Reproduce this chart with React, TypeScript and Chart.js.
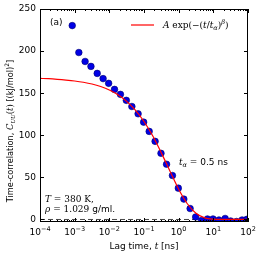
import React, { useEffect, useRef } from "react";
import { Chart, registerables } from "chart.js";

Chart.register(...registerables);

// Measured data: lag time t [ns] and time-correlation C_UU(t)
const lagTimes = [
  0.000851, 0.00132, 0.002, 0.00295, 0.00447, 0.00661, 0.00955, 0.0141, 0.0209, 0.0309,
  0.0447, 0.0676, 0.0977, 0.141, 0.209, 0.309, 0.447, 0.661, 0.977, 1.41,
  2.14, 3.09, 4.57, 6.76, 9.77, 14.5, 21.9, 31.6, 46.8, 67.6, 93.3,
];
const correlation = [
  230.3, 198.3, 187.7, 181.8, 173.5, 167.3, 161.7, 154.5, 148.6, 141.5,
  134.2, 125.5, 115.6, 104.6, 92.8, 78.6, 65.6, 52.2, 37.2, 24.2,
  13.0, 3.0, -1.2, 0.6, 0.6, -0.6, 1.2, -1.8, -2.4, -0.6, 0.2,
];

// Stretched-exponential fit curve
const fitTimes = [
  0.0001, 0.000178, 0.000316, 0.000562, 0.001, 0.00178, 0.00316, 0.00562, 0.01, 0.0178,
  0.0316, 0.0562, 0.1, 0.178, 0.316, 0.562, 1, 1.78, 3.16, 5.62,
  10, 17.8, 31.6, 56.2, 100,
];
const fitValues = [
  167.6, 167.2, 166.5, 165.6, 164.5, 163.0, 160.9, 157.9, 153.8, 148.1,
  140.3, 129.8, 116.4, 99.4, 79.1, 57.4, 36.0, 18.7, 7.3, 1.9,
  0.3, 0.0, 0, 0, 0,
];

const zeroLineTimes = [0.0001, 100];
const zeroLineValues = [0, 0];

const yTicks = [0, 50, 100, 150, 200, 250];
const xTickExponents = ["−4", "−3", "−2", "−1", "0", "1", "2"];
const xTickValues = [1e-4, 1e-3, 1e-2, 1e-1, 1, 10, 100];

type Run = { t: string; f: string; dy?: number };

const SANS = "'DejaVu Sans', sans-serif";
const SERIF = "'DejaVu Serif', serif";

function drawRuns(ctx: CanvasRenderingContext2D, runs: Run[], x: number, y: number, align: "left" | "center" | "right") {
  ctx.save();
  ctx.textBaseline = "alphabetic";
  ctx.textAlign = "left";
  let total = 0;
  for (const r of runs) {
    ctx.font = r.f;
    total += ctx.measureText(r.t).width;
  }
  let cx = x;
  if (align === "center") cx = x - total / 2;
  if (align === "right") cx = x - total;
  for (const r of runs) {
    ctx.font = r.f;
    ctx.fillText(r.t, cx, y + (r.dy || 0));
    cx += ctx.measureText(r.t).width;
  }
  ctx.restore();
}

const decorPlugin = {
  id: "decor",
  afterDraw(chart: any) {
    const ctx: CanvasRenderingContext2D = chart.ctx;
    const { left, right, top, bottom } = chart.chartArea;
    const xs = chart.scales.x;
    const ys = chart.scales.y;
    ctx.save();
    ctx.strokeStyle = "#000";
    ctx.fillStyle = "#000";
    ctx.lineWidth = 1;
    // frame
    ctx.strokeRect(left + 0.5, top + 0.5, right - left - 1, bottom - top - 1);
    // x ticks (major + minor), inward, bottom and top
    ctx.beginPath();
    for (let e = -4; e <= 2; e++) {
      const p = Math.round(xs.getPixelForValue(Math.pow(10, e))) + 0.5;
      ctx.moveTo(p, bottom);
      ctx.lineTo(p, bottom - 4);
      ctx.moveTo(p, top);
      ctx.lineTo(p, top + 4);
      if (e < 2) {
        for (let m = 2; m <= 9; m++) {
          const q = Math.round(xs.getPixelForValue(m * Math.pow(10, e))) + 0.5;
          ctx.moveTo(q, bottom);
          ctx.lineTo(q, bottom - 2);
          ctx.moveTo(q, top);
          ctx.lineTo(q, top + 2);
        }
      }
    }
    for (const v of yTicks) {
      const p = Math.round(ys.getPixelForValue(v)) + 0.5;
      ctx.moveTo(left, p);
      ctx.lineTo(left + 4, p);
      ctx.moveTo(right, p);
      ctx.lineTo(right - 4, p);
    }
    ctx.stroke();

    // y tick labels
    ctx.font = `9px ${SANS}`;
    ctx.textAlign = "right";
    ctx.textBaseline = "middle";
    for (const v of yTicks) {
      ctx.fillText(String(v), left - 4, ys.getPixelForValue(v));
    }
    // x tick labels
    xTickValues.forEach((v, i) => {
      const p = xs.getPixelForValue(v);
      drawRuns(
        ctx,
        [
          { t: "10", f: `9px ${SANS}` },
          { t: xTickExponents[i], f: `6.5px ${SANS}`, dy: -4 },
        ],
        p,
        bottom + 13,
        "center"
      );
    });

    // x axis title
    drawRuns(
      ctx,
      [
        { t: "Lag time, ", f: `9px ${SANS}` },
        { t: "t", f: `italic 9px ${SERIF}` },
        { t: " [ns]", f: `9px ${SANS}` },
      ],
      (left + right) / 2,
      bottom + 27,
      "center"
    );

    // y axis title (rotated)
    ctx.save();
    ctx.translate(13, 131);
    ctx.rotate(-Math.PI / 2);
    drawRuns(
      ctx,
      [
        { t: "Time-correlation, ", f: `8.2px ${SANS}` },
        { t: "C", f: `italic 8.5px ${SERIF}` },
        { t: "UU", f: `italic 5.5px ${SERIF}`, dy: 2 },
        { t: "(", f: `8.5px ${SERIF}` },
        { t: "t", f: `italic 8.5px ${SERIF}` },
        { t: ")", f: `8.5px ${SERIF}` },
        { t: " [(kJ/mol)", f: `8.2px ${SANS}` },
        { t: "2", f: `6px ${SANS}`, dy: -4 },
        { t: "]", f: `8.2px ${SANS}` },
      ],
      0,
      0,
      "center"
    );
    ctx.restore();

    // panel label
    drawRuns(ctx, [{ t: "(a)", f: `9px ${SANS}` }], 50, 25, "left");

    // legend
    ctx.strokeStyle = "#ff0000";
    ctx.lineWidth = 1.2;
    ctx.beginPath();
    ctx.moveTo(131, 25);
    ctx.lineTo(154, 25);
    ctx.stroke();
    drawRuns(
      ctx,
      [
        { t: "A", f: `italic 9px ${SERIF}` },
        { t: " exp(−(", f: `9px ${SERIF}` },
        { t: "t", f: `italic 9px ${SERIF}` },
        { t: "/", f: `9px ${SERIF}` },
        { t: "t", f: `italic 9px ${SERIF}` },
        { t: "α", f: `italic 6.5px ${SERIF}`, dy: 2 },
        { t: ")", f: `9px ${SERIF}` },
        { t: "β", f: `italic 6.5px ${SERIF}`, dy: -4 },
        { t: ")", f: `9px ${SERIF}` },
      ],
      163,
      28,
      "left"
    );

    // annotations
    drawRuns(
      ctx,
      [
        { t: "t", f: `italic 9px ${SERIF}` },
        { t: "α", f: `italic 6.5px ${SERIF}`, dy: 2 },
        { t: " = ", f: `9px ${SERIF}` },
        { t: "0.5 ns", f: `9px ${SANS}` },
      ],
      179,
      165,
      "left"
    );
    drawRuns(
      ctx,
      [
        { t: "T", f: `italic 9px ${SERIF}` },
        { t: " = 380 K,", f: `9px ${SERIF}` },
      ],
      45,
      202,
      "left"
    );
    drawRuns(
      ctx,
      [
        { t: "ρ", f: `italic 9px ${SERIF}` },
        { t: " = 1.029", f: `9px ${SERIF}` },
        { t: " g/ml.", f: `9px ${SANS}` },
      ],
      45,
      212,
      "left"
    );
    ctx.restore();
  },
};

export default function App() {
  const ref = useRef<HTMLCanvasElement | null>(null);
  useEffect(() => {
    document.body.style.margin = "0";
    const canvas = ref.current;
    if (!canvas) return;
    const chart = new Chart(canvas, {
      type: "scatter",
      data: {
        datasets: [
          {
            label: "fit",
            data: fitTimes.map((t, i) => ({ x: t, y: fitValues[i] })),
            showLine: true,
            borderColor: "#ff0000",
            borderWidth: 1.2,
            pointRadius: 0,
            cubicInterpolationMode: "monotone",
            order: 0,
          } as any,
          {
            label: "data",
            data: lagTimes.map((t, i) => ({ x: t, y: correlation[i] })),
            showLine: false,
            backgroundColor: "#0000e6",
            borderColor: "#00006e",
            borderWidth: 0.6,
            pointRadius: 3.3,
            order: 1,
          },
          {
            label: "zero",
            data: zeroLineTimes.map((t, i) => ({ x: t, y: zeroLineValues[i] })),
            showLine: true,
            borderColor: "#444444",
            borderWidth: 1,
            borderDash: [5, 3],
            pointRadius: 0,
            order: 2,
          } as any,
        ],
      },
      options: {
        responsive: false,
        animation: false,
        devicePixelRatio: 1,
        layout: { padding: { left: 40, right: 14, top: 9, bottom: 34 } },
        plugins: { legend: { display: false }, tooltip: { enabled: false } },
        scales: {
          x: {
            type: "logarithmic",
            min: 1e-4,
            max: 100,
            ticks: { display: false },
            grid: { display: false, drawTicks: false },
            border: { display: false },
          },
          y: {
            type: "linear",
            min: -3,
            max: 250,
            ticks: { display: false },
            grid: { display: false, drawTicks: false },
            border: { display: false },
          },
        },
      },
      plugins: [decorPlugin],
    });
    return () => chart.destroy();
  }, []);
  return (
    <div style={{ position: "fixed", left: 0, top: 0, width: 262, height: 256, background: "#fff" }}>
      <canvas ref={ref} width={262} height={256} />
    </div>
  );
}
